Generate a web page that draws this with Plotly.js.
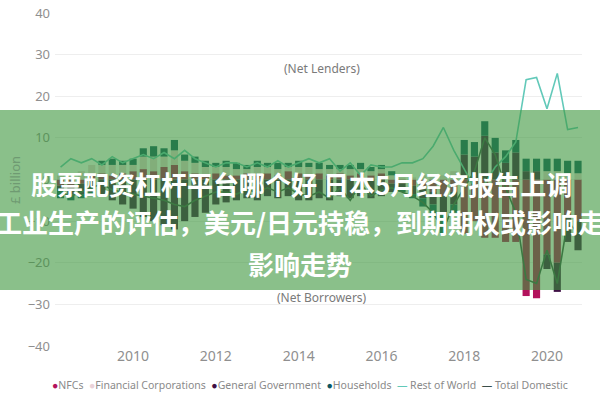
<!DOCTYPE html>
<html>
<head>
<meta charset="utf-8">
<script src="https://cdn.plot.ly/plotly-3.0.1.min.js"></script>
<style>html,body{margin:0;padding:0;background:#fff;}#chart{width:600px;height:400px;}</style>
</head>
<body>
<div id="chart"></div>
<script>
// Quarters (x categories)
const quarters = ['2008-04-01','2008-07-01','2008-10-01',
 '2009-01-01','2009-04-01','2009-07-01','2009-10-01',
 '2010-01-01','2010-04-01','2010-07-01','2010-10-01',
 '2011-01-01','2011-04-01','2011-07-01','2011-10-01',
 '2012-01-01','2012-04-01','2012-07-01','2012-10-01',
 '2013-01-01','2013-04-01','2013-07-01','2013-10-01',
 '2014-01-01','2014-04-01','2014-07-01','2014-10-01',
 '2015-01-01','2015-04-01','2015-07-01','2015-10-01',
 '2016-01-01','2016-04-01','2016-07-01','2016-10-01',
 '2017-01-01','2017-04-01','2017-07-01','2017-10-01',
 '2018-01-01','2018-04-01','2018-07-01','2018-10-01',
 '2019-01-01','2019-04-01','2019-07-01','2019-10-01',
 '2020-01-01','2020-04-01','2020-07-01','2020-10-01'];

// Sector balances, £ billion
const nfcs = [-1.5,-2,-1, 1,1.5,1,1.5, 2,2.5,2,3, 3.5,2,1.5,1, 1.5,1,1,1.5, 1,1.5,1,2, 1.5,1,1.5,1, 1.5,1,1.5,1, 1.5,-1,-1,-1.5, -2,-3,-4,-3, -13,-10,-14,-14, -15,-15,-28,-28.5, -18,-20,-9,-10];
const financialCorps = [1,1.5,2, 2.5,2,2.5,2, 1.5,3,3.5,2.5, 3.5,2.5,2.5,2, 1.5,2,1.5,1, 2,1.5,1.5,1, 1.5,2,1,1.5, 1,1.5,1,1, 1,1,0.5,0.5, 1,1,1,2, 0,0,0,0, 0,0,0,0, 2,2,1.5,1.5];
const generalGov = [-1,-1.5,-2.5, -3,-4,-5,-6, -7,-9,-10,-11, -12,-10,-9,-8, -6,-5.5,-5,-4.5, -5,-4,-4.5,-4, -5,-5,-4.5,-5, -4,-4.5,-4,-4.5, -4,-2,-1.5,-2, -2.5,-3,-4,-3, 6,5.5,10.5,6.5, 4,6.5,2,2, -3.5,-7,-6,-7];
const households = [-2,-1.5,-1, -1,1,1.5,1, 1.5,2,2.5,2, 2.5,1.5,1.5,1.5, 1,1.5,1.5,1, 1.5,1,1.5,1, 1.5,1,1.5,1, 1,1,1.5,1, 1,1,-0.5,-1, -2,-3,-5,-2, 3.5,3.5,3.5,3.5, 3,3,3,3, 3,3,3,3];
const restOfWorld = [3,5,4, 5,3.5,5.5,4, 5,6,5,6.5, 5,7,5,4, 3,4,4,3, 4,3,4.5,3, 4,5,4,5, 2,4,1,3.5, 3,3,4,4, 5,8,12.5,7, 2.5,-2,-1,3, 5.5,9,24,24.5, 17,25.5,12,12.5];
const totalDomestic = [-3,-4,-3, -2,-1,-2.5,-3, -3.5,-4,-4.5,-5, -6,-6.5,-5,-4, -3,-3,-3.5,-2.5, -3,-2,-3,-2, -3.5,-4,-3,-4.5, -2,-5,-1,-4, -2.5,-2,-3,-4, -5.5,-8,-12,-6, -2,2,10,6, -2,-8,-24,-25, -17,-25,-10,-13];

const yTicks = [-40,-30,-20,-10,0,10,20,30,40];
const xTickVals = ['2010-01-01','2012-01-01','2014-01-01','2016-01-01','2018-01-01','2020-01-01'];
const xTickText = ['2010','2012','2014','2016','2018','2020'];

const C = {nfc:'#b3125c', fc:'#ead2d8', gg:'#3e0f44', hh:'#0e5662', row:'#62c9b9', td:'#3b4f4b'};

const traces = [
 {type:'bar', name:'NFCs', x:quarters, y:nfcs, marker:{color:C.nfc}},
 {type:'bar', name:'Financial Corporations', x:quarters, y:financialCorps, marker:{color:C.fc}},
 {type:'bar', name:'General Government', x:quarters, y:generalGov, marker:{color:C.gg}},
 {type:'bar', name:'Households', x:quarters, y:households, marker:{color:C.hh}},
 {type:'scatter', mode:'lines', name:'Rest of World', x:quarters, y:restOfWorld, line:{color:C.row, width:1.6}},
 {type:'scatter', mode:'lines', name:'Total Domestic', x:quarters, y:totalDomestic, line:{color:C.td, width:1.6}}
];

const L = 55, R = 18, T = 13, B = 54, W = 600, H = 400;
const pw = W - L - R, ph = H - T - B;
const px = X => (X - L) / pw;
const py = Y => (H - B - Y) / ph;

const gray = '#8f8f8f';
const font = 'Noto Sans, Open Sans, sans-serif';
const cjk = 'Noto Sans CJK SC, Noto Sans, sans-serif';

const legendText =
 '<span style="color:'+C.nfc+'">●</span>NFCs  ' +
 '<span style="color:'+C.fc+'">●</span>Financial Corporations  ' +
 '<span style="color:'+C.gg+'">●</span>General Government  ' +
 '<span style="color:'+C.hh+'">●</span>Households  ' +
 '<span style="color:'+C.row+'">—</span> Rest of World  ' +
 '<span style="color:'+C.td+'">—</span> Total Domestic';

function ann(x, y, text, f, extra) {
 return Object.assign({xref:'paper', yref:'paper', x:px(x), y:py(y), text:text, showarrow:false,
   xanchor:'center', yanchor:'middle', font:f}, extra || {});
}
const bannerFont = {family:cjk, size:26, color:'#ffffff', weight:700};

const layout = {
 width:W, height:H,
 margin:{l:L, r:R, t:T, b:B},
 paper_bgcolor:'#fff', plot_bgcolor:'#fff',
 barmode:'relative', bargap:0.3,
 showlegend:false,
 font:{family:font, color:gray},
 xaxis:{type:'date', range:['2008-02-12','2020-11-05'], tickvals:xTickVals, ticktext:xTickText,
   showgrid:false, zeroline:false, showline:false, ticks:'', tickfont:{size:14, color:gray}},
 yaxis:{range:[-40,40], tickvals:yTicks, showgrid:true, gridcolor:'#eeeeee', gridwidth:1,
   zeroline:false, showline:false, ticks:'', tickfont:{size:13, color:gray}, ticklabelstandoff:4},
 shapes:[
  {type:'rect', xref:'paper', yref:'paper', x0:px(0), x1:px(600), y0:py(290), y1:py(110),
   fillcolor:'rgba(60,150,60,0.6)', line:{width:0}, layer:'above'}
 ],
 annotations:[
  ann(322, 68, '(Net Lenders)', {size:12, color:'#7a7a7a'}),
  ann(322, 297, '(Net Borrowers)', {size:12, color:'#7a7a7a'}),
  ann(15, 180, '£ billion', {size:13, color:'#6f9a72'}, {textangle:-90}),
  ann(310, 385, legendText, {size:10.5, color:'#8a8a8a'}),
  ann(301, 183, '股票配资杠杆平台哪个好 日本5月经济报告上调', bannerFont),
  ann(300, 222, '工业生产的评估，美元/日元持稳，到期期权或影响走', bannerFont),
  ann(300, 263, '影响走势', bannerFont)
 ]
};

Plotly.newPlot('chart', traces, layout, {displayModeBar:false, staticPlot:true});
</script>
</body>
</html>
